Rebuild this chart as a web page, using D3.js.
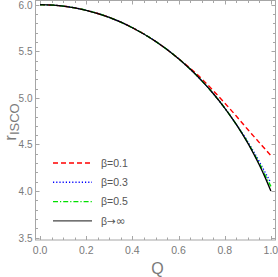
<!DOCTYPE html>
<html>
<head>
<meta charset="utf-8">
<script src="https://cdn.jsdelivr.net/npm/d3@7"></script>
<style>
  body { margin: 0; background: #fff; }
  svg { display: block; font-family: "Liberation Sans", Arial, sans-serif; }
</style>
</head>
<body>
<svg id="chart" width="278" height="277"></svg>
<script>
// charge values along the curves
const qValues = [0, 0.1, 0.2, 0.3, 0.4, 0.5, 0.6, 0.65, 0.7, 0.75, 0.8, 0.85, 0.9, 0.925, 0.95, 0.975, 1.0];
// r_ISCO for each beta
const rBeta01  = [6.0, 5.985, 5.94, 5.863, 5.753, 5.607, 5.422, 5.318, 5.205, 5.078, 4.945, 4.805, 4.66, 4.59, 4.52, 4.45, 4.38];
const rBeta03  = [6.0, 5.985, 5.94, 5.863, 5.753, 5.607, 5.42, 5.309, 5.185, 5.047, 4.891, 4.716, 4.53, 4.425, 4.315, 4.2, 4.09];
const rBeta05  = [6.0, 5.985, 5.94, 5.863, 5.753, 5.607, 5.42, 5.309, 5.185, 5.047, 4.891, 4.715, 4.52, 4.41, 4.295, 4.17, 4.05];
const rBetaInf = [6.0, 5.985, 5.94, 5.863, 5.753, 5.607, 5.42, 5.309, 5.185, 5.047, 4.891, 4.715, 4.514, 4.402, 4.28, 4.147, 4.0];

const xTicks = [0, 0.2, 0.4, 0.6, 0.8, 1.0];
const yTicks = [3.5, 4.0, 4.5, 5.0, 5.5, 6.0];
const legendLabels = [["β=", "0.1"], ["β=", "0.3"], ["β=", "0.5"], ["β", "→", "∞"]];

const series = [
  { name: legendLabels[0], values: rBeta01, color: "#ff0000", dash: "5,3" },
  { name: legendLabels[1], values: rBeta03, color: "#0000ff", dash: "1.2,2" },
  { name: legendLabels[2], values: rBeta05, color: "#00e000", dash: "5,2,1.2,2" },
  { name: legendLabels[3], values: rBetaInf, color: "#000000", dash: null }
];

const svg = d3.select("#chart");
const pl = 35.5, pr = 275.5, pt = 0.5, pb = 240;

const x = d3.scaleLinear().domain([-0.02, 1.02]).range([pl, pr]);
const y = d3.scaleLinear().domain([3.475, 6.045]).range([pb, pt]);

const frameColor = "#a6a6a6";
const labelColor = "#7a7a7a";

// frame
svg.append("rect")
  .attr("x", pl).attr("y", pt)
  .attr("width", pr - pl).attr("height", pb - pt)
  .attr("fill", "none").attr("stroke", frameColor).attr("stroke-width", 1);

// ticks (inward, on all four sides)
const ticks = svg.append("g").attr("stroke", frameColor).attr("stroke-width", 1);
d3.range(0, 1.0001, 0.05).forEach(v => {
  const major = Math.abs(v / 0.2 - Math.round(v / 0.2)) < 1e-6;
  const len = major ? 4 : 2.5;
  const px = Math.round(x(v)) + 0.5;
  ticks.append("line").attr("x1", px).attr("x2", px).attr("y1", pb).attr("y2", pb - len);
  ticks.append("line").attr("x1", px).attr("x2", px).attr("y1", pt).attr("y2", pt + len);
});
d3.range(3.5, 6.0001, 0.1).forEach(v => {
  const major = Math.abs(v / 0.5 - Math.round(v / 0.5)) < 1e-6;
  const len = major ? 4 : 2.5;
  const py = Math.round(y(v)) + 0.5;
  ticks.append("line").attr("y1", py).attr("y2", py).attr("x1", pl).attr("x2", pl + len);
  ticks.append("line").attr("y1", py).attr("y2", py).attr("x1", pr).attr("x2", pr - len);
});

// tick labels
svg.append("g").selectAll("text").data(xTicks).enter().append("text")
  .attr("x", d => x(d)).attr("y", pb + 14)
  .attr("text-anchor", "middle").attr("font-size", 10.5).attr("fill", labelColor)
  .text(d => d.toFixed(1));
svg.append("g").selectAll("text").data(yTicks).enter().append("text")
  .attr("x", pl - 3).attr("y", d => y(d) + 4)
  .attr("text-anchor", "end").attr("font-size", 10).attr("fill", labelColor)
  .text(d => d.toFixed(1));

// axis titles
svg.append("text")
  .attr("x", 157.5).attr("y", 274)
  .attr("text-anchor", "middle").attr("font-size", 16).attr("fill", labelColor)
  .text("Q");
const yt = svg.append("text")
  .attr("transform", "translate(15.5,122) rotate(-90)")
  .attr("text-anchor", "middle").attr("fill", labelColor);
yt.append("tspan").attr("font-size", 17).text("r");
yt.append("tspan").attr("font-size", 13).attr("dy", 3).text("ISCO");

// curves
const line = d3.line()
  .x((d, i) => x(qValues[i]))
  .y(d => y(d))
  .curve(d3.curveMonotoneX);

const curves = svg.append("g");
series.forEach(s => {
  curves.append("path")
    .attr("d", line(s.values))
    .attr("fill", "none")
    .attr("stroke", s.color)
    .attr("stroke-width", s.dash ? 1.4 : 1.3)
    .attr("stroke-dasharray", s.dash);
});

// legend
const legend = svg.append("g");
series.forEach((s, i) => {
  const ly = 163 + i * 19.3;
  legend.append("line")
    .attr("x1", 53).attr("x2", 92).attr("y1", ly).attr("y2", ly)
    .attr("stroke", s.dash ? s.color : "#444")
    .attr("stroke-width", s.dash ? 1.4 : 1.3)
    .attr("stroke-dasharray", s.dash);
  const t = legend.append("text")
    .attr("x", 101).attr("y", ly + 3.8)
    .attr("font-size", 10.5).attr("fill", "#555");
  s.name.forEach(part => {
    t.append("tspan")
      .attr("font-family", part === "→" || part === "∞" ? "DejaVu Sans" : null)
      .attr("font-size", part === "∞" ? 11.5 : null)
      .text(part);
  });
});
</script>
</body>
</html>
